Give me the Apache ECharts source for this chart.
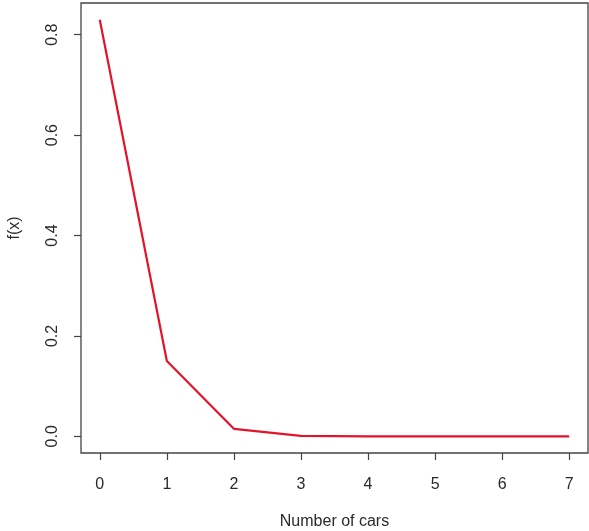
<!DOCTYPE html>
<html>
<head>
<meta charset="utf-8">
<script src="https://cdn.jsdelivr.net/npm/echarts@6/dist/echarts.min.js"></script>
<style>
  html, body { margin: 0; padding: 0; background: #fff; }
  #chart { width: 589px; height: 531px; }
</style>
</head>
<body>
<div id="chart"></div>
<script>
// Probability of each number of cars
const cars = [0, 1, 2, 3, 4, 5, 6, 7];
const density = [0.83, 0.15, 0.015, 0.001, 0.0001, 0, 0, 0];
const xTicks = [0, 1, 2, 3, 4, 5, 6, 7];
const yTicks = [0, 0.2, 0.4, 0.6, 0.8];

const points = cars.map((c, i) => [c, density[i]]);

// R-style 4% padding around the data range
const xPad = (7 - 0) * 0.04;
const yMaxData = Math.max(...density);
const yPad = yMaxData * 0.04;

const font = '"Liberation Sans", Arial, sans-serif';
const textColor = '#2a2a2a';
const chart = echarts.init(document.getElementById('chart'));
chart.setOption({
  animation: false,
  backgroundColor: '#fff',
  grid: {
    left: 81, top: 3, right: 1, bottom: 78,
    outerBoundsMode: 'none',
    containLabel: false,
    show: true, borderColor: '#444', borderWidth: 1.3,
    backgroundColor: 'transparent'
  },
  xAxis: {
    type: 'value',
    min: -xPad, max: 7 + xPad,
    name: 'Number of cars',
    nameLocation: 'middle',
    nameGap: 61,
    nameTextStyle: { fontFamily: font, fontSize: 16, color: textColor },
    axisLine: { show: false, onZero: false },
    splitLine: { show: false },
    axisTick: { show: true, length: 7, customValues: xTicks, lineStyle: { color: '#444', width: 1.2 } },
    axisLabel: {
      customValues: xTicks, margin: 24,
      fontFamily: font, fontSize: 16, color: textColor,
      formatter: v => String(Math.round(v))
    }
  },
  yAxis: {
    type: 'value',
    min: -yPad, max: yMaxData + yPad,
    name: 'f(x)',
    nameLocation: 'middle',
    nameRotate: 90,
    nameGap: 58,
    nameTextStyle: { fontFamily: font, fontSize: 16, color: textColor },
    axisLine: { show: false, onZero: false },
    splitLine: { show: false },
    axisTick: { show: true, length: 7, customValues: yTicks, lineStyle: { color: '#444', width: 1.2 } },
    axisLabel: {
      customValues: yTicks, margin: 20, rotate: 90,
      fontFamily: font, fontSize: 16, color: textColor,
      formatter: v => v.toFixed(1)
    }
  },
  series: [{
    type: 'line',
    data: points,
    symbol: 'none',
    lineStyle: { color: '#e3132b', width: 2.2 }
  }]
});
</script>
</body>
</html>
